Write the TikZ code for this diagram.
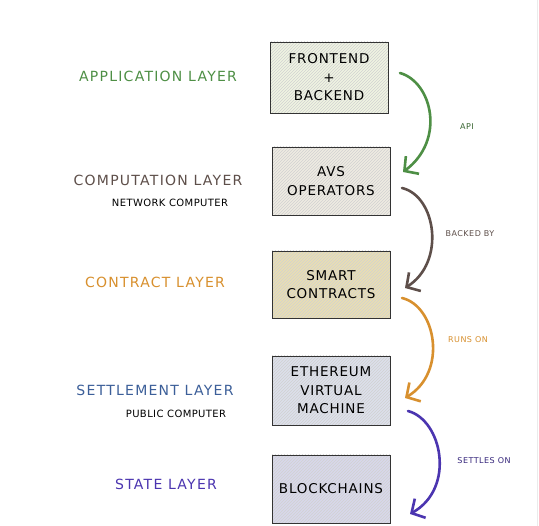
\documentclass[tikz,border=0pt]{standalone}
\usepackage{fontspec}
\setmainfont{DejaVu Sans}
\usetikzlibrary{arrows.meta,patterns}
\definecolor{cgreen}{HTML}{4E8F45}
\definecolor{cbrown}{HTML}{5E4F4A}
\definecolor{corange}{HTML}{D8902E}
\definecolor{cblue}{HTML}{3C5F99}
\definecolor{cpurple}{HTML}{4B35B0}
\definecolor{fgreen}{HTML}{F0F4E2}
\definecolor{fbeige}{HTML}{EFECE2}
\definecolor{ftan}{HTML}{EADFB2}
\definecolor{fblue}{HTML}{DCE0EC}
\definecolor{fpurple}{HTML}{D8D8EC}
\tikzset{
  x=1pt,y=-1pt,
  layerbox/.style={draw=black!80,line width=0.9pt,minimum width=118pt,
    align=center,font=\fontsize{13.5}{18.5}\selectfont\addfontfeatures{LetterSpace=6},inner sep=2pt},
  hatch/.style={preaction={fill=#1},pattern=north east lines,pattern color=black!18},
  layerlabel/.style={font=\fontsize{14}{16}\selectfont\addfontfeatures{LetterSpace=9}},
  sublabel/.style={font=\fontsize{10}{12}\selectfont\addfontfeatures{LetterSpace=4},text=black},
  arrlabel/.style={font=\fontsize{8}{10}\selectfont\addfontfeatures{LetterSpace=6}},
  flow/.style={line width=2.6pt,line cap=round,
    -{Straight Barb[length=10pt,width=22pt,line width=2.6pt]}},
}
\begin{document}
\begin{tikzpicture}
\useasboundingbox[fill=white] (0,0) rectangle (539,526);
\draw[black!8,line width=1pt] (537,0) -- (537,526);

% boxes
\node[layerbox,hatch=fgreen,minimum height=71pt] (b1) at (329,77.5) {FRONTEND\\+\\BACKEND};
\node[layerbox,hatch=fbeige,minimum height=68pt] (b2) at (331,181) {AVS\\OPERATORS};
\node[layerbox,hatch=ftan,minimum height=67pt] (b3) at (331,284.5) {SMART\\CONTRACTS};
\node[layerbox,hatch=fblue,minimum height=69pt] (b4) at (331,390.5) {ETHEREUM\\VIRTUAL\\MACHINE};
\node[layerbox,hatch=fpurple,minimum height=68pt] (b5) at (331,489) {BLOCKCHAINS};

% layer labels
\node[layerlabel,text=cgreen] (l1) at (158,76) {APPLICATION LAYER};
\node[layerlabel,text=cbrown] (l2) at (158,180) {COMPUTATION LAYER};
\node[sublabel] (s2) at (170,203) {NETWORK COMPUTER};
\node[layerlabel,text=corange] (l3) at (155,282) {CONTRACT LAYER};
\node[layerlabel,text=cblue] (l4) at (155,390) {SETTLEMENT LAYER};
\node[sublabel] (s4) at (176,414) {PUBLIC COMPUTER};
\node[layerlabel,text=cpurple] (l5) at (166,484) {STATE LAYER};

% arrow endpoints
\coordinate (a1s) at (400,73);  \coordinate (a1e) at (403,172);
\coordinate (a2s) at (402,188); \coordinate (a2e) at (405,288);
\coordinate (a3s) at (402,298); \coordinate (a3e) at (405,398);
\coordinate (a4s) at (408,411); \coordinate (a4e) at (410,514);

\draw[flow,cgreen] (a1s) .. controls (432,82) and (446,140) .. (a1e);
\draw[flow,cbrown] (a2s) .. controls (436,196) and (446,262) .. (a2e);
\draw[flow,corange] (a3s) .. controls (436,306) and (448,372) .. (a3e);
\draw[flow,cpurple] (a4s) .. controls (442,420) and (456,488) .. (a4e);

\node[arrlabel,text=cgreen!70!black] (t1) at (467,127) {API};
\node[arrlabel,text=cbrown] (t2) at (470,234) {BACKED BY};
\node[arrlabel,text=corange] (t3) at (468,340) {RUNS ON};
\node[arrlabel,text=cpurple!70!black] (t4) at (484,461) {SETTLES ON};
\end{tikzpicture}
\end{document}
